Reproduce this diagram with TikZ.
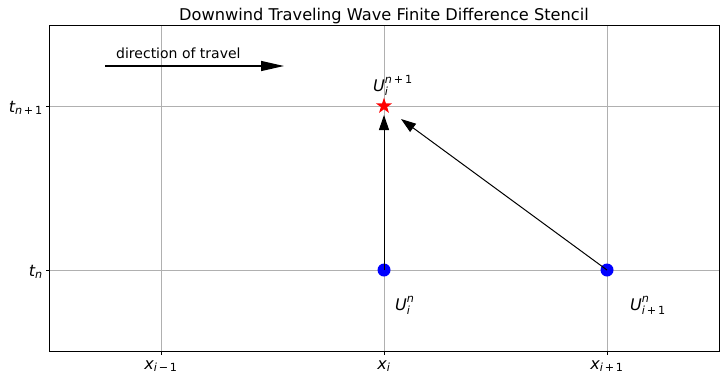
\documentclass[tikz,border=0pt]{standalone}
\usepackage{amsmath}
\usepackage{fontspec}
\setmainfont{DejaVu Sans}[ItalicFont={DejaVu Sans Oblique}]
\usetikzlibrary{arrows.meta,shapes.geometric}
\newcommand{\mi}[1]{\text{\itshape #1}}
\tikzset{
  gridline/.style={draw=black!31, line width=0.8pt},
  frameline/.style={draw=black, line width=0.8pt},
  tickline/.style={draw=black, line width=0.8pt},
  arr/.style={draw=black, line width=1pt, -{Triangle[length=15pt,width=10pt]}},
  dirarr/.style={draw=black, line width=1.3pt, -{Triangle[length=23pt,width=10pt]}},
  dot/.style={circle, fill=blue, minimum size=13pt, inner sep=0pt},
  starmark/.style={star, star points=5, star point ratio=2.6, fill=red, minimum size=17pt, inner sep=0pt},
  ticklab/.style={font=\fontsize{16}{18}\selectfont, inner sep=0pt},
  lab/.style={font=\fontsize{16}{18}\selectfont, inner sep=0pt},
}
\begin{document}
\begin{tikzpicture}[x=1pt,y=-1pt]
\useasboundingbox (0,0) rectangle (726,381);
% grid
\foreach \gx in {161,384,607} \draw[gridline] (\gx,25) -- (\gx,351);
\foreach \gy in {106,270} \draw[gridline] (49,\gy) -- (719,\gy);
% frame
\draw[frameline] (49,25) rectangle (719,351);
% ticks
\foreach \gx in {161,384,607} \draw[tickline] (\gx,351) -- (\gx,354.5);
\foreach \gy in {106,270} \draw[tickline] (49,\gy) -- (45.5,\gy);
% tick labels
\node[ticklab, anchor=base] (xa) at (161,369) {$\mi{x}_{\mi{i}\,\text{−}\,\text{1}}$};
\node[ticklab, anchor=base] (xb) at (384,369) {$\mi{x}_{\mi{i}}$};
\node[ticklab, anchor=base] (xc) at (607,369) {$\mi{x}_{\mi{i}\,\text{+}\,\text{1}}$};
\node[ticklab, anchor=east] (ta) at (43,108) {$\mi{t}_{\mi{n}\,\text{+}\,\text{1}}$};
\node[ticklab, anchor=east] (tb) at (43,272) {$\mi{t}_{\mi{n}}$};
% title
\node[font=\fontsize{16.2}{19}\selectfont, anchor=base] (title) at (384,20) {Downwind Traveling Wave Finite Difference Stencil};
% direction of travel
\node[font=\fontsize{14}{16}\selectfont, anchor=base west, inner sep=0pt] (dirlab) at (116,58) {direction of travel};
\coordinate (ds) at (105,66);
\coordinate (de) at (284,66);
\draw[dirarr] (ds) -- (de);
% points
\node[dot] (ui) at (384,270) {};
\node[dot] (uip) at (607,270) {};
\node[starmark] (unp) at (384,106) {};
\coordinate (vt) at (384,115);
\coordinate (dt) at (401,119);
\draw[arr] (ui.center) -- (vt);
\draw[arr] (uip.center) -- (dt);
% labels
\node[lab, anchor=base west] (lunp) at (373,91) {$\mi{U}_{\mi{i}}^{\mi{n}\,\text{+}\,\text{1}}$};
\node[lab, anchor=base west] (lui) at (395,310) {$\mi{U}_{\mi{i}}^{\mi{n}}$};
\node[lab, anchor=base west] (luip) at (630,310) {$\mi{U}_{\mi{i}\,\text{+}\,\text{1}}^{\mi{n}}$};
\end{tikzpicture}
\end{document}
